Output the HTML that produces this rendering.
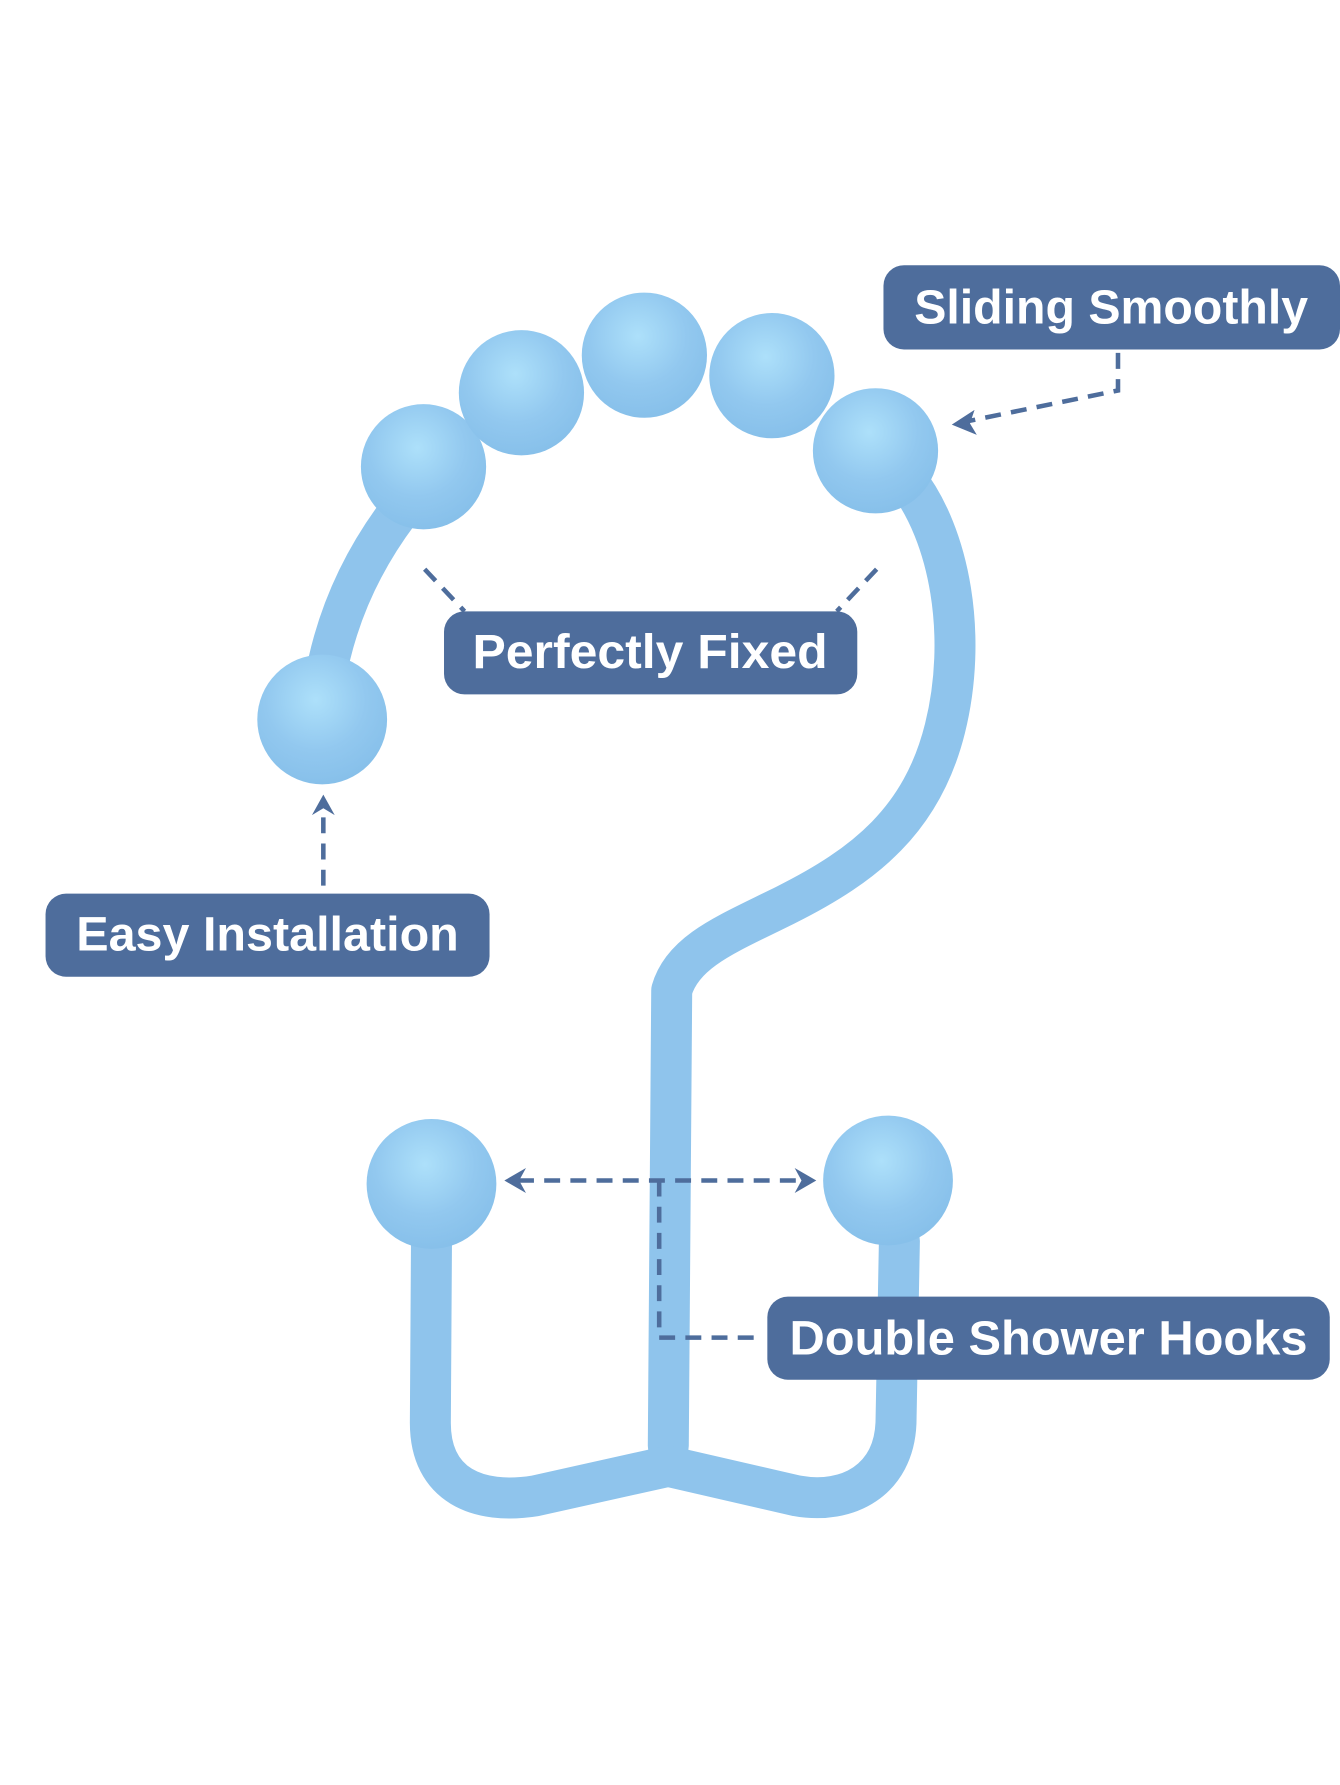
<!DOCTYPE html>
<html><head><meta charset="utf-8"><style>
html,body{margin:0;padding:0;background:#fff;}
svg{display:block;}
text{font-family:"Liberation Sans",sans-serif;font-weight:bold;fill:#fff;}
</style></head><body>
<svg width="1340" height="1785" viewBox="0 0 1177 1568" preserveAspectRatio="none" xmlns="http://www.w3.org/2000/svg">
<defs>
<radialGradient id="b" cx="0.45" cy="0.35" r="0.65">
<stop offset="0" stop-color="#ade0fa"/><stop offset="0.6" stop-color="#92c8ef"/><stop offset="1" stop-color="#87c0ea"/>
</radialGradient>
</defs>
<g fill="none" stroke="#8fc4ec" stroke-width="36" stroke-linecap="round" stroke-linejoin="round">
<path d="M795 420 C835 470 850 560 830 640 C810 720 760 760 690 795 C640 820 600 835 590 870 L587 1270"/>
<path d="M350 450 C320 490 295 540 285 600"/>
<path d="M379 1090 L378 1250 C378 1305 420 1322 470 1314 L587 1288 L700 1314 C745 1322 785 1300 787 1250 L790 1090"/>
</g>
<g fill="url(#b)">
<circle cx="372" cy="410" r="55"/><circle cx="458" cy="345" r="55"/><circle cx="566" cy="312" r="55"/>
<circle cx="678" cy="330" r="55"/><circle cx="769" cy="396" r="55"/>
<circle cx="283" cy="632" r="57"/><circle cx="379" cy="1040" r="57"/><circle cx="780" cy="1037" r="57"/>
</g>
<g stroke="#4e6d9c" stroke-width="4" fill="none" stroke-dasharray="14 9">
<path d="M982 310 L982 343 L850 370"/>
<path d="M373 500 L408 537"/><path d="M770 500 L735 537"/>
<path d="M284 778 L284 710"/>
<path d="M455 1037 L705 1037"/>
<path d="M579 1037 L579 1175 L670 1175"/>
</g>
<g fill="#4e6d9c">
<polygon points="836,373 856,360 852,372 858,382"/>
<polygon points="284,698 274,716 284,710 294,716"/>
<polygon points="443,1037 462,1026 456,1037 462,1048"/>
<polygon points="717,1037 698,1026 704,1037 698,1048"/>
<rect x="776" y="233" width="401" height="74" rx="18"/>
<rect x="390" y="537" width="363" height="73" rx="18"/>
<rect x="40" y="785" width="390" height="73" rx="18"/>
<rect x="674" y="1139" width="494" height="73" rx="18"/>
</g>
<text x="976" y="284" font-size="42" text-anchor="middle" textLength="346" lengthAdjust="spacingAndGlyphs">Sliding Smoothly</text>
<text x="571" y="587" font-size="42" text-anchor="middle" textLength="312" lengthAdjust="spacingAndGlyphs">Perfectly Fixed</text>
<text x="235" y="835" font-size="42" text-anchor="middle" textLength="336" lengthAdjust="spacingAndGlyphs">Easy Installation</text>
<text x="921" y="1190" font-size="42" text-anchor="middle" textLength="455" lengthAdjust="spacingAndGlyphs">Double Shower Hooks</text>
</svg>
</body></html>
